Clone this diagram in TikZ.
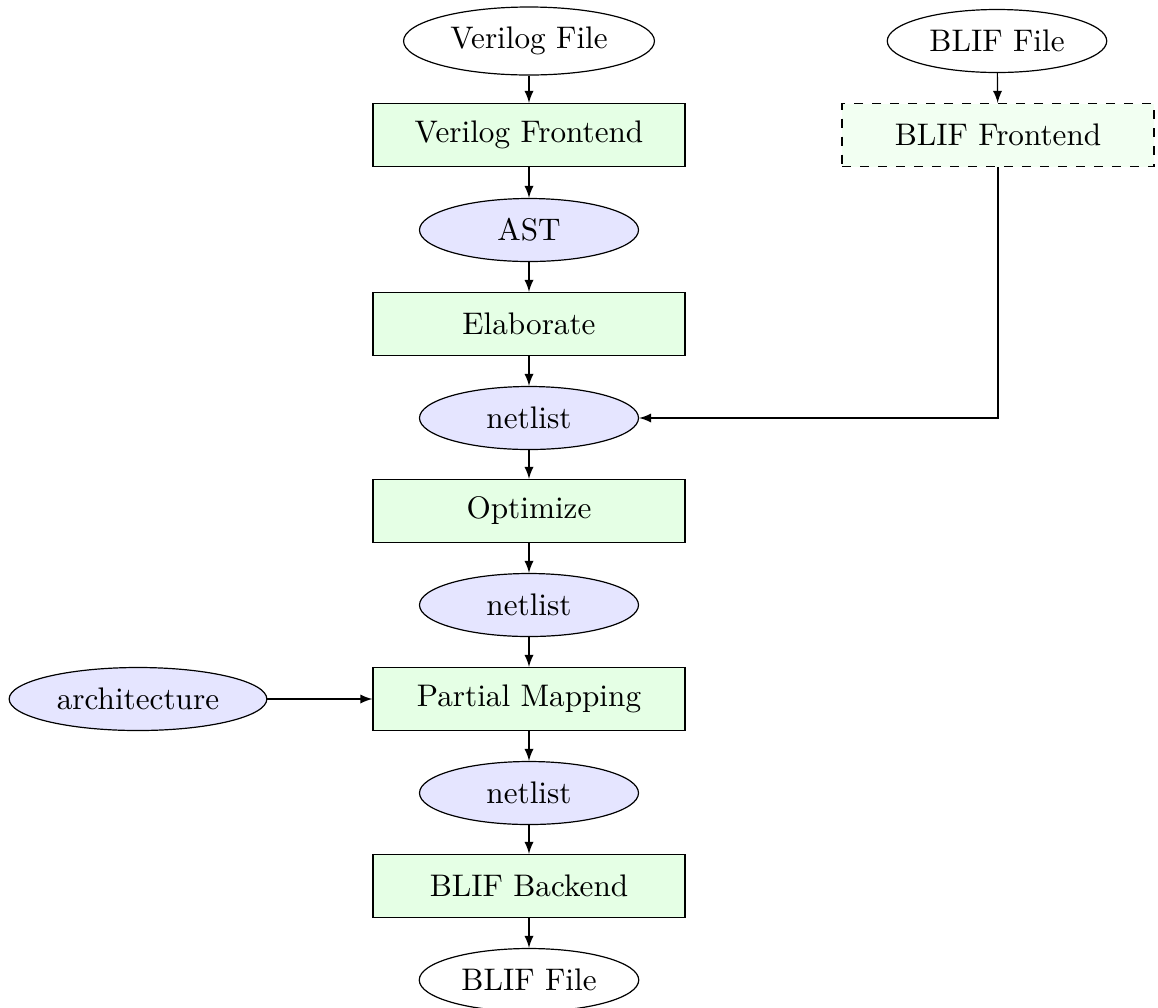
\documentclass[tikz,border=0pt]{standalone}
\usetikzlibrary{shapes.geometric}
\begin{document}
\begin{tikzpicture}[x=0.33333pt,y=-0.33333pt,
  every node/.style={font=\fontsize{10.4}{12.5}\selectfont},
  proc/.style={draw,fill=green!10,minimum width=104pt,minimum height=21pt},
  optproc/.style={draw,dashed,fill=green!5,minimum width=104pt,minimum height=21pt},
  data/.style={draw,ellipse,fill=blue!10,minimum width=73pt,minimum height=21pt},
  file/.style={draw,ellipse,fill=white,minimum width=73pt,minimum height=21pt},
  flow/.style={-latex}]
\useasboundingbox (0,0) rectangle (1158,1007);

% main flow
\node[file] (vfile) at (529,41) {Verilog File};
\node[proc] (vfe)   at (529,135) {Verilog Frontend};
\node[data] (ast)   at (529,230) {AST};
\node[proc] (elab)  at (529,324) {Elaborate};
\node[data] (net1)  at (529,418) {netlist};
\node[proc] (opt)   at (529,511) {Optimize};
\node[data] (net2)  at (529,605) {netlist};
\node[proc] (pmap)  at (529,699) {Partial Mapping};
\node[data] (net3)  at (529,793) {netlist};
\node[proc] (bbe)   at (529,886) {BLIF Backend};
\node[file] (bout)  at (529,980) {BLIF File};

% side inputs
\node[file] (bin)   at (997,41) {BLIF File};
\node[optproc] (bfe) at (998,135) {BLIF Frontend};
\node[data] (arch)  at (138,699) {architecture};

\draw[flow] (vfile) -- (vfe);
\draw[flow] (vfe) -- (ast);
\draw[flow] (ast) -- (elab);
\draw[flow] (elab) -- (net1);
\draw[flow] (net1) -- (opt);
\draw[flow] (opt) -- (net2);
\draw[flow] (net2) -- (pmap);
\draw[flow] (pmap) -- (net3);
\draw[flow] (net3) -- (bbe);
\draw[flow] (bbe) -- (bout);

\draw[flow] (bin) -- (bfe);
\draw[flow] (bfe.south) |- (net1.east);
\draw[flow] (arch) -- (pmap);
\end{tikzpicture}
\end{document}
